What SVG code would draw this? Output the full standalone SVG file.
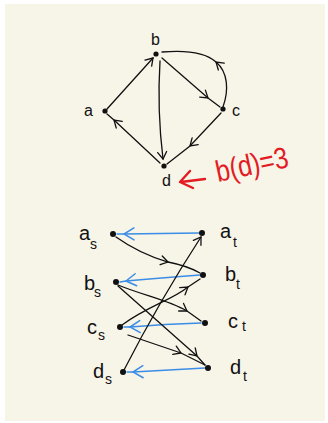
<svg xmlns="http://www.w3.org/2000/svg" width="328" height="423" viewBox="0 0 328 423">
<style>
.e{fill:none;stroke:#111;stroke-width:1.3;stroke-linecap:round}
.bl{fill:none;stroke:#3b8de6;stroke-width:1.5;stroke-linecap:round}
.lb{font-family:"Liberation Sans",Arial,sans-serif;fill:#111}
.n{fill:#111}
</style>
<defs>
<marker id="ak" markerUnits="userSpaceOnUse" orient="auto" overflow="visible" markerWidth="1" markerHeight="1" refX="0" refY="0">
<path d="M-7,-4.5 L0,0 L-7,4.5" fill="none" stroke="#111" stroke-width="1.3" stroke-linecap="round"/>
</marker>
<marker id="ab" markerUnits="userSpaceOnUse" orient="auto" overflow="visible" markerWidth="1" markerHeight="1" refX="0" refY="0">
<path d="M-10,-6 L0,0 L-10,6" fill="none" stroke="#3b8de6" stroke-width="1.5" stroke-linecap="round"/>
</marker>
</defs>
<rect x="0" y="0" width="328" height="423" fill="#ffffff"/>
<rect x="5" y="4" width="320" height="417" fill="#f7f4e8"/>

<g id="connectors">
<!-- top graph -->
<path class="e" d="M107,109 L153,58" marker-end="url(#ak)"/>
<path class="e" d="M160,61 Q157,110 163,159" marker-end="url(#ak)"/>
<path class="e" d="M162,58 L208,98 L220,107" marker-mid="url(#ak)"/>
<path class="e" d="M223,107 C229,90 228,72 216,62 C205,52 185,50 162,52" marker-mid="url(#ak)"/>
<path class="e" d="M221,113 L190,146 L167,164" marker-mid="url(#ak)"/>
<path class="e" d="M160,163 L114,120 L107,114" marker-mid="url(#ak)"/>
<!-- bottom graph blue -->
<path class="bl" d="M199,233 L124,234 L117,234" marker-mid="url(#ab)"/>
<path class="bl" d="M200,275 Q160,278 126,281 L120,282" marker-mid="url(#ab)"/>
<path class="bl" d="M201,323 Q165,324 130,327 L124,327" marker-mid="url(#ab)"/>
<path class="bl" d="M205,368 Q170,370 133,372 L127,372" marker-mid="url(#ab)"/>
<!-- bottom graph black -->
<path class="e" d="M116,237 Q140,254 168,262 Q188,266 200,273" marker-mid="url(#ak)"/>
<path class="e" d="M124,370 Q160,300 201,237" marker-end="url(#ak)"/>
<path class="e" d="M118,285 C145,296 168,300 187,311 L201,321" marker-mid="url(#ak)"/>
<path class="e" d="M118,286 L197,356 L205,365" marker-mid="url(#ak)"/>
<path class="e" d="M122,325 C148,306 172,300 188,287 L200,279" marker-mid="url(#ak)"/>
<path class="e" d="M128,335 L181,353 L205,365" marker-mid="url(#ak)"/>
<!-- red annotation -->
<path d="M205,179 L181,182 M190,171 L180,182 L193,188" fill="none" stroke="#e31b23" stroke-width="2.4" stroke-linecap="round" stroke-linejoin="round"/>
</g>

<g id="node-a"><circle class="n" cx="105" cy="111" r="2.6"/><text class="lb" x="84" y="116" font-size="16">a</text></g>
<g id="node-b"><circle class="n" cx="156" cy="54" r="2.6"/><text class="lb" x="151" y="45" font-size="16">b</text></g>
<g id="node-c"><circle class="n" cx="223" cy="109" r="2.6"/><text class="lb" x="232" y="116" font-size="16">c</text></g>
<g id="node-d"><circle class="n" cx="164" cy="166" r="2.6"/><text class="lb" x="162" y="186" font-size="16">d</text></g>

<g id="annotation"><text x="0" y="0" font-family="Liberation Sans,Arial,sans-serif" font-size="24" fill="#e31b23" transform="translate(218,182) rotate(-12) scale(1.05,1.25)">b(d)=3</text></g>

<g id="node-as"><circle class="n" cx="113" cy="234" r="3"/><text class="lb" x="79" y="240" font-size="20">a</text><text class="lb" x="90" y="249" font-size="14">s</text></g>
<g id="node-bs"><circle class="n" cx="116" cy="282" r="3"/><text class="lb" x="84" y="290" font-size="20">b</text><text class="lb" x="94" y="297" font-size="14">s</text></g>
<g id="node-cs"><circle class="n" cx="120" cy="327" r="3"/><text class="lb" x="87" y="334" font-size="20">c</text><text class="lb" x="98" y="340" font-size="14">s</text></g>
<g id="node-ds"><circle class="n" cx="123" cy="372" r="3"/><text class="lb" x="93" y="378" font-size="20">d</text><text class="lb" x="105" y="384" font-size="14">s</text></g>

<g id="node-at"><circle class="n" cx="202" cy="233" r="3"/><text class="lb" x="220" y="238" font-size="20">a</text><text class="lb" x="233" y="247" font-size="14">t</text></g>
<g id="node-bt"><circle class="n" cx="203" cy="275" r="3"/><text class="lb" x="225" y="281" font-size="20">b</text><text class="lb" x="236" y="289" font-size="14">t</text></g>
<g id="node-ct"><circle class="n" cx="205" cy="323" r="3"/><text class="lb" x="228" y="328" font-size="20">c</text><text class="lb" x="242" y="331" font-size="14">t</text></g>
<g id="node-dt"><circle class="n" cx="208" cy="368" r="3"/><text class="lb" x="230" y="374" font-size="20">d</text><text class="lb" x="243" y="381" font-size="14">t</text></g>
</svg>
